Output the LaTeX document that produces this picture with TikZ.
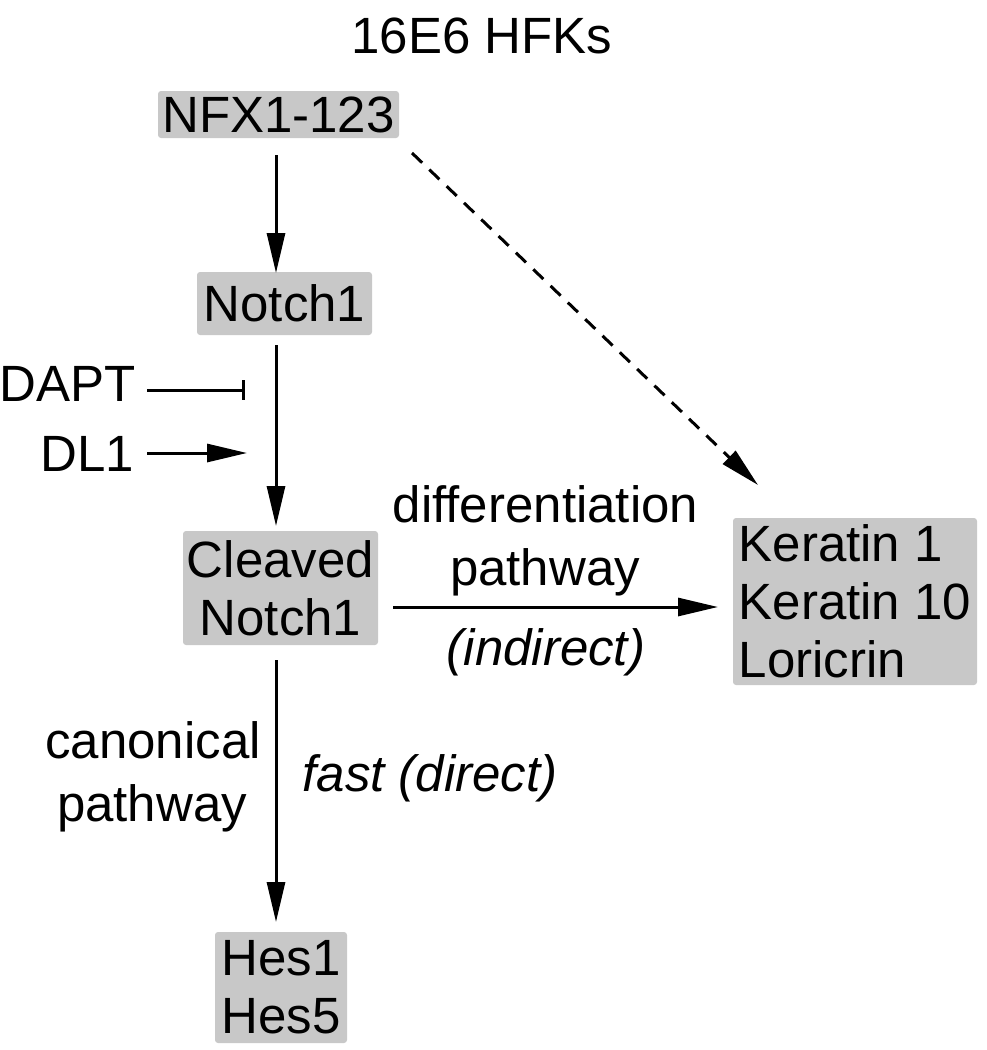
\documentclass[tikz,border=0pt]{standalone}
\usepackage{fontspec}
\setmainfont{Liberation Sans}
\usetikzlibrary{arrows.meta}
\begin{document}
\begin{tikzpicture}[x=1pt,y=-1pt,
  every node/.style={font=\fontsize{51}{58}\selectfont, inner sep=0pt},
  gbox/.style={fill=boxgray, rounded corners=3pt, align=center},
  arr/.style={line width=3pt, -{Triangle[length=40pt,width=18pt]}},
  lbl/.style={align=center}]
\definecolor{boxgray}{RGB}{200,200,200}
\useasboundingbox (0,0) rectangle (986,1050);
\node (title) at (482,36) {16E6 HFKs};
\node[gbox, minimum width=241pt, minimum height=47pt] (nfx) at (278.5,114.5) {NFX1-123};
\node[gbox, minimum width=175pt, minimum height=63pt] (notch) at (284.5,303.5) {Notch1};
\node[gbox, minimum width=195pt, minimum height=114pt] (cleaved) at (280.5,588) {Cleaved\\Notch1};
\node[gbox, minimum width=244pt, minimum height=167pt, align=left] (kera) at (855,601.5) {Keratin 1\\Keratin 10\\Loricrin};
\node[gbox, minimum width=132pt, minimum height=111pt] (hes) at (281,987.5) {Hes1\\Hes5};
\node[anchor=east] (dapt) at (136,384) {DAPT};
\node[anchor=east] (dl1) at (134,454) {DL1};
\node[lbl] (diff) at (545.5,504) {differentiation};
\node[lbl] (pw1) at (545,572) {pathway};
\node[lbl] (ind) at (546,652) {\itshape (indirect)};
\node[lbl] (can) at (153,740) {canonical};
\node[lbl] (pw2) at (152,808) {pathway};
\node[lbl] (fast) at (430,778) {\itshape fast (direct)};
\coordinate (a1s) at (276,155); \coordinate (a1e) at (276,273);
\coordinate (a2s) at (276,345); \coordinate (a2e) at (276,526);
\coordinate (dapts) at (147,390); \coordinate (dapte) at (245,390);
\coordinate (dl1s) at (147,453); \coordinate (dl1e) at (247,453);
\coordinate (ds) at (412,153); \coordinate (de) at (758,485);
\coordinate (hs) at (393,607); \coordinate (he) at (718,607);
\coordinate (vs) at (276,660); \coordinate (ve) at (276,922);
\draw[arr] (a1s) -- (a1e);
\draw[arr] (a2s) -- (a2e);
\draw[line width=3pt, -{Bar[width=20pt,line width=3pt]}] (dapts) -- (dapte);
\draw[arr] (dl1s) -- (dl1e);
\draw[arr, dash pattern=on 14pt off 10pt] (ds) -- (de);
\draw[arr] (hs) -- (he);
\draw[arr] (vs) -- (ve);
\end{tikzpicture}
\end{document}
